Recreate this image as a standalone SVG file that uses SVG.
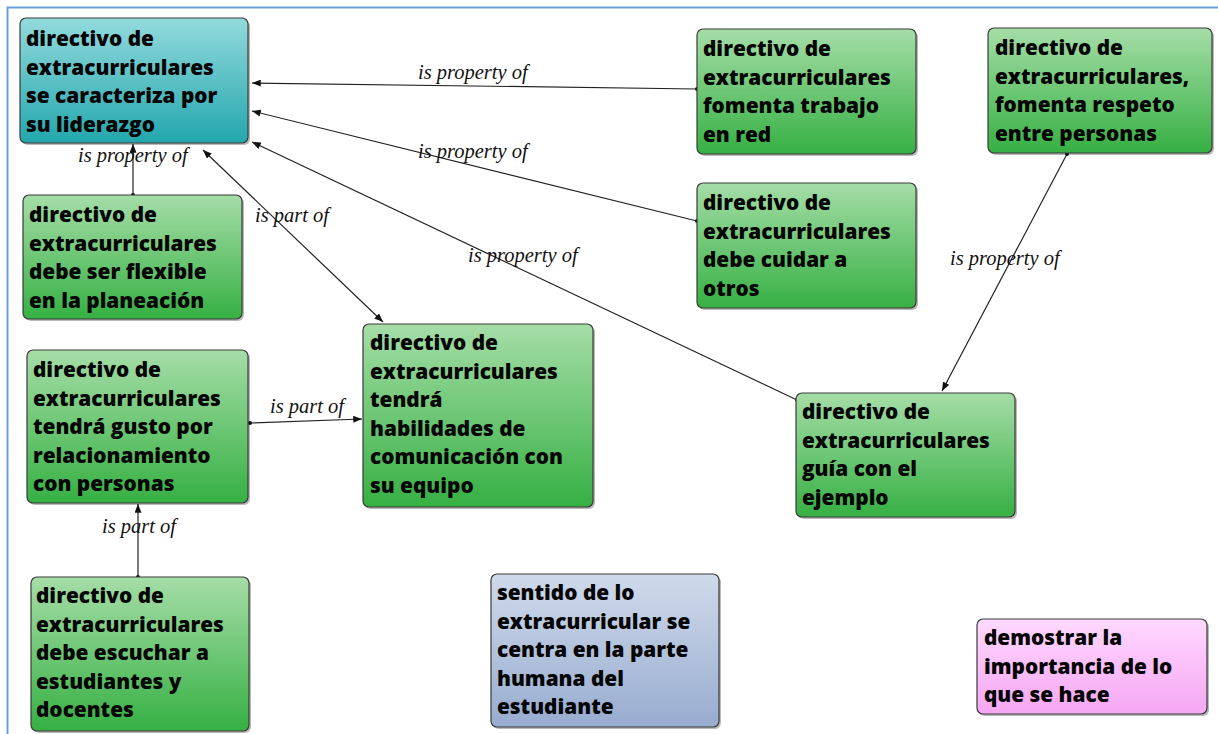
<svg xmlns="http://www.w3.org/2000/svg" width="1218" height="734" viewBox="0 0 1218 734">
<style>
.box{stroke:#3a3a3a;stroke-width:1.2}
.sh{fill:#000;opacity:0.28}
.t{font-family:"Open Sans","DejaVu Sans",sans-serif;font-weight:800;font-size:20.8px;fill:#050505}
.lbl{font-family:"Liberation Serif",serif;font-style:italic;font-size:20.5px;fill:#111}
.c{stroke:#222;stroke-width:1.2;fill:none}
</style>
<defs>
<linearGradient id="gTeal" x1="0" y1="0" x2="0" y2="1"><stop offset="0" stop-color="#93dadc"/><stop offset="1" stop-color="#23a7ad"/></linearGradient>
<linearGradient id="gGreen" x1="0" y1="0" x2="0" y2="1"><stop offset="0" stop-color="#a5dda7"/><stop offset="1" stop-color="#36b043"/></linearGradient>
<linearGradient id="gBlue" x1="0" y1="0" x2="0" y2="1"><stop offset="0" stop-color="#cfdaea"/><stop offset="1" stop-color="#98acd0"/></linearGradient>
<linearGradient id="gPink" x1="0" y1="0" x2="0" y2="1"><stop offset="0" stop-color="#ffd9ff"/><stop offset="1" stop-color="#f6a6f3"/></linearGradient>
<marker id="ah" viewBox="0 0 10 8" refX="10" refY="4" markerWidth="9" markerHeight="7" markerUnits="userSpaceOnUse" orient="auto-start-reverse"><path d="M0,0 L10,4 L0,8 z" fill="#111"/></marker>
<marker id="dot" viewBox="0 0 4 4" refX="2" refY="2" markerWidth="4" markerHeight="4" markerUnits="userSpaceOnUse"><circle cx="2" cy="2" r="2" fill="#111"/></marker>
</defs>
<rect width="1218" height="734" fill="#ffffff"/>
<path d="M7.5,734 V7.5 H1218" fill="none" stroke="#6a9fdc" stroke-width="2"/>

<g id="connectors">
<line class="c" x1="697" y1="89" x2="252" y2="83" marker-start="url(#dot)" marker-end="url(#ah)"/>
<line class="c" x1="697" y1="221" x2="252" y2="111" marker-start="url(#dot)" marker-end="url(#ah)"/>
<line class="c" x1="797" y1="400" x2="252" y2="142" marker-start="url(#dot)" marker-end="url(#ah)"/>
<line class="c" x1="203" y1="150" x2="383" y2="322" marker-start="url(#ah)" marker-end="url(#ah)"/>
<line class="c" x1="133" y1="195" x2="133" y2="144" marker-start="url(#dot)" marker-end="url(#ah)"/>
<line class="c" x1="1067" y1="154" x2="942" y2="391" marker-start="url(#dot)" marker-end="url(#ah)"/>
<line class="c" x1="250" y1="423" x2="362" y2="419" marker-start="url(#dot)" marker-end="url(#ah)"/>
<line class="c" x1="138" y1="577" x2="138" y2="504" marker-start="url(#dot)" marker-end="url(#ah)"/>
<text class="lbl" x="418" y="79">is property of</text>
<text class="lbl" x="418" y="158">is property of</text>
<text class="lbl" x="78" y="162">is property of</text>
<text class="lbl" x="255" y="222">is part of</text>
<text class="lbl" x="468" y="262">is property of</text>
<text class="lbl" x="950" y="265">is property of</text>
<text class="lbl" x="270" y="413">is part of</text>
<text class="lbl" x="102" y="533">is part of</text>
</g>

<g id="n1">
<rect class="sh" x="22" y="20" width="228" height="125" rx="6"/>
<rect class="box" x="20" y="18" width="228" height="125" rx="6" fill="url(#gTeal)"/>
<text class="t" x="26" y="46"><tspan x="26">directivo de</tspan><tspan x="26" dy="28.5">extracurriculares</tspan><tspan x="26" dy="28.5">se caracteriza por</tspan><tspan x="26" dy="28.5">su liderazgo</tspan></text>
</g>

<g id="n2">
<rect class="sh" x="699" y="31" width="219" height="125" rx="6"/>
<rect class="box" x="697" y="29" width="219" height="125" rx="6" fill="url(#gGreen)"/>
<text class="t" x="703" y="56"><tspan x="703">directivo de</tspan><tspan x="703" dy="28.5">extracurriculares</tspan><tspan x="703" dy="28.5">fomenta trabajo</tspan><tspan x="703" dy="28.5">en red</tspan></text>
</g>

<g id="n3">
<rect class="sh" x="990" y="30" width="224" height="125" rx="6"/>
<rect class="box" x="988" y="28" width="224" height="125" rx="6" fill="url(#gGreen)"/>
<text class="t" x="995" y="55"><tspan x="995">directivo de</tspan><tspan x="995" dy="28.5">extracurriculares,</tspan><tspan x="995" dy="28.5">fomenta respeto</tspan><tspan x="995" dy="28.5">entre personas</tspan></text>
</g>

<g id="n4">
<rect class="sh" x="25" y="197" width="219" height="124" rx="6"/>
<rect class="box" x="23" y="195" width="219" height="124" rx="6" fill="url(#gGreen)"/>
<text class="t" x="29" y="222"><tspan x="29">directivo de</tspan><tspan x="29" dy="28.5">extracurriculares</tspan><tspan x="29" dy="28.5">debe ser flexible</tspan><tspan x="29" dy="28.5">en la planeación</tspan></text>
</g>

<g id="n5">
<rect class="sh" x="699" y="185" width="219" height="125" rx="6"/>
<rect class="box" x="697" y="183" width="219" height="125" rx="6" fill="url(#gGreen)"/>
<text class="t" x="703" y="210"><tspan x="703">directivo de</tspan><tspan x="703" dy="28.5">extracurriculares</tspan><tspan x="703" dy="28.5">debe cuidar a</tspan><tspan x="703" dy="28.5">otros</tspan></text>
</g>

<g id="n6">
<rect class="sh" x="365" y="326" width="230" height="183" rx="6"/>
<rect class="box" x="363" y="324" width="230" height="183" rx="6" fill="url(#gGreen)"/>
<text class="t" x="370" y="350"><tspan x="370">directivo de</tspan><tspan x="370" dy="28.5">extracurriculares</tspan><tspan x="370" dy="28.5">tendrá</tspan><tspan x="370" dy="28.5">habilidades de</tspan><tspan x="370" dy="28.5">comunicación con</tspan><tspan x="370" dy="28.5">su equipo</tspan></text>
</g>

<g id="n7">
<rect class="sh" x="29" y="352" width="221" height="153" rx="6"/>
<rect class="box" x="27" y="350" width="221" height="153" rx="6" fill="url(#gGreen)"/>
<text class="t" x="33" y="377"><tspan x="33">directivo de</tspan><tspan x="33" dy="28.5">extracurriculares</tspan><tspan x="33" dy="28.5">tendrá gusto por</tspan><tspan x="33" dy="28.5">relacionamiento</tspan><tspan x="33" dy="28.5">con personas</tspan></text>
</g>

<g id="n8">
<rect class="sh" x="798" y="395" width="219" height="124" rx="6"/>
<rect class="box" x="796" y="393" width="219" height="124" rx="6" fill="url(#gGreen)"/>
<text class="t" x="802" y="419"><tspan x="802">directivo de</tspan><tspan x="802" dy="28.5">extracurriculares</tspan><tspan x="802" dy="28.5">guía con el</tspan><tspan x="802" dy="28.5">ejemplo</tspan></text>
</g>

<g id="n9">
<rect class="sh" x="33" y="579" width="218" height="154" rx="6"/>
<rect class="box" x="31" y="577" width="218" height="154" rx="6" fill="url(#gGreen)"/>
<text class="t" x="36" y="603"><tspan x="36">directivo de</tspan><tspan x="36" dy="28.5">extracurriculares</tspan><tspan x="36" dy="28.5">debe escuchar a</tspan><tspan x="36" dy="28.5">estudiantes y</tspan><tspan x="36" dy="28.5">docentes</tspan></text>
</g>

<g id="n10">
<rect class="sh" x="493" y="576" width="228" height="153" rx="6"/>
<rect class="box" x="491" y="574" width="228" height="153" rx="6" fill="url(#gBlue)"/>
<text class="t" x="497" y="600"><tspan x="497">sentido de lo</tspan><tspan x="497" dy="28.5">extracurricular se</tspan><tspan x="497" dy="28.5">centra en la parte</tspan><tspan x="497" dy="28.5">humana del</tspan><tspan x="497" dy="28.5">estudiante</tspan></text>
</g>

<g id="n11">
<rect class="sh" x="979" y="621" width="230" height="95" rx="6"/>
<rect class="box" x="977" y="619" width="230" height="95" rx="6" fill="url(#gPink)"/>
<text class="t" x="984" y="645"><tspan x="984">demostrar la</tspan><tspan x="984" dy="28.5">importancia de lo</tspan><tspan x="984" dy="28.5">que se hace</tspan></text>
</g>
</svg>
